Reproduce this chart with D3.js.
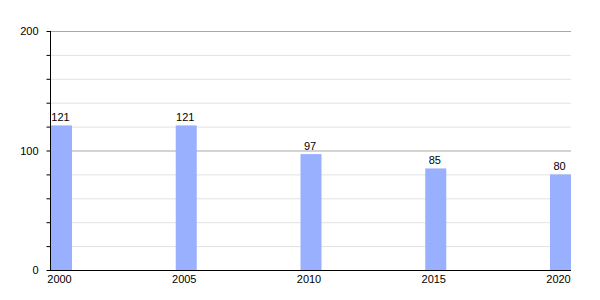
<!DOCTYPE html>
<html><head><meta charset="utf-8">
<script src="https://cdn.jsdelivr.net/npm/d3@7"></script>
<style>body{margin:0;background:#fff}svg{display:block}text{font-family:"Liberation Sans",Arial,sans-serif;font-size:11px;fill:#000}</style>
</head><body><svg width="600" height="300"></svg>
<script>
const years = [2000, 2005, 2010, 2015, 2020];
const values = [121, 121, 97, 85, 80];
const majorTicks = [0, 100, 200];
const minorTicks = [20, 40, 60, 80, 120, 140, 160, 180];

(function () {
const svg = d3.select("svg");
const mLeft = 50, mRight = 571, mTop = 31, mBottom = 270;
const barW = 21;
const y = d3.scaleLinear().domain([0, 200]).range([mBottom, mTop]);
const x = d3.scaleLinear().domain([2000, 2020]).range([mLeft + 1, mRight - barW]);

// minor gridlines
svg.append("g").selectAll("line").data(minorTicks).join("line")
  .attr("x1", mLeft).attr("x2", mRight)
  .attr("y1", d => y(d) + 0.5).attr("y2", d => y(d) + 0.5)
  .attr("stroke", "#e2e2e2");
// major gridlines
svg.append("g").selectAll("line").data(majorTicks.filter(d => d > 0)).join("line")
  .attr("x1", mLeft).attr("x2", mRight)
  .attr("y1", d => y(d) + 0.5).attr("y2", d => y(d) + 0.5)
  .attr("stroke", "#a8a8a8");

// bars
svg.append("g").selectAll("rect").data(values).join("rect")
  .attr("x", (d, i) => x(years[i]))
  .attr("y", d => y(d))
  .attr("width", barW)
  .attr("height", d => mBottom - y(d))
  .attr("fill", "#99b0ff");

// value labels
svg.append("g").selectAll("text").data(values).join("text")
  .attr("x", (d, i) => x(years[i]) + barW / 2 - 1)
  .attr("y", d => y(d) - 4)
  .attr("text-anchor", "middle")
  .text(d => d);

// y axis
const yAxis = d3.axisLeft(y).tickValues(d3.range(0, 201, 20)).tickSize(4).tickFormat(d => majorTicks.includes(d) ? d : "");
const gy = svg.append("g").attr("transform", `translate(${mLeft + 0.5},0)`).call(yAxis);
gy.select(".domain").attr("d", `M0,${mTop}V${mBottom}`).attr("stroke", "#000");
gy.selectAll(".tick line").attr("stroke", "#000");
gy.selectAll(".tick text").attr("x", -12).style("font-size", "11px").style("font-family", '"Liberation Sans",Arial,sans-serif');

// x axis
const xAxis = d3.axisBottom(x).tickValues(years).tickSize(0).tickFormat(d3.format("d"));
const gx = svg.append("g").attr("transform", `translate(0,${mBottom + 0.5})`).call(xAxis);
gx.select(".domain").attr("d", `M${mLeft},0H${mRight}`).attr("stroke", "#000");
gx.selectAll(".tick").attr("transform", d => `translate(${x(d) + barW / 2 - 2},0)`);
gx.selectAll(".tick text").attr("y", 5).attr("dy", "0.71em").style("font-size", "11px").style("font-family", '"Liberation Sans",Arial,sans-serif');
})();
</script></body></html>
